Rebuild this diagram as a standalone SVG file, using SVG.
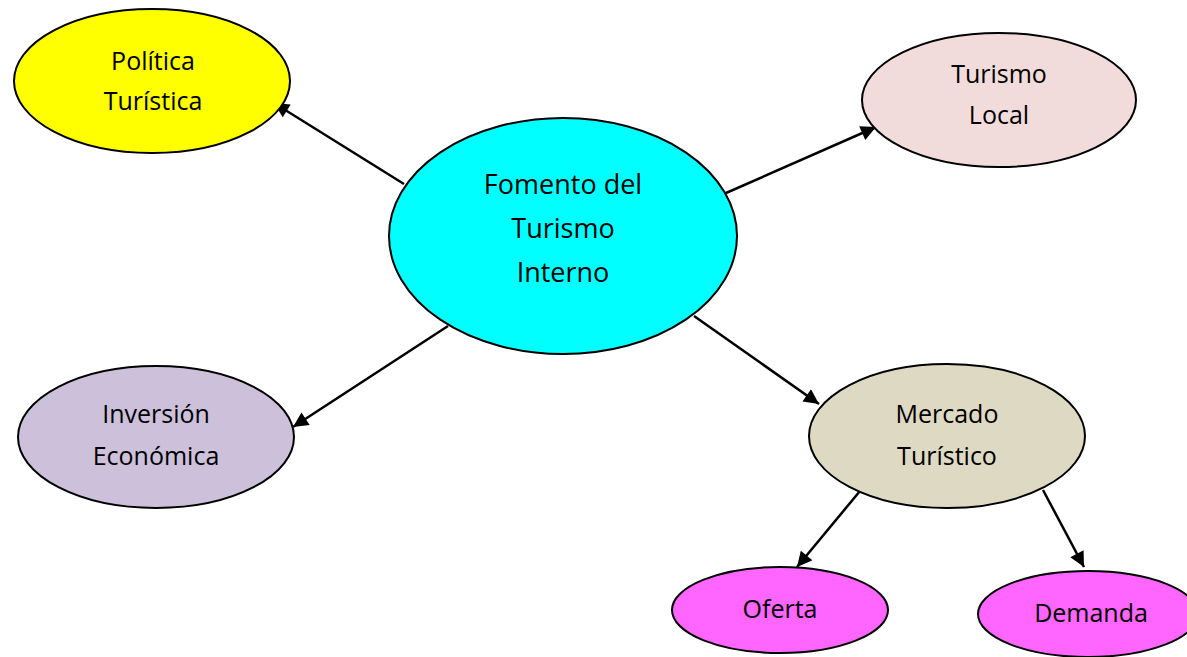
<svg xmlns="http://www.w3.org/2000/svg" width="1187" height="657" viewBox="0 0 1187 657">
<style>
.n{stroke:#000;stroke-width:2}
.t{font-family:"Open Sans","Liberation Sans",sans-serif;font-size:25px;fill:#000;text-anchor:middle}
.tc{font-size:27px}
.c{stroke:#000;stroke-width:2.5;fill:none;marker-end:url(#ah)}
</style>
<defs>
<marker id="ah" viewBox="0 0 10 10" refX="10" refY="5" markerWidth="6.5" markerHeight="6" orient="auto" markerUnits="strokeWidth">
<path d="M0,0 L10,5 L0,10 Z" fill="#000"/>
</marker>
</defs>
<rect width="1187" height="657" fill="#fff"/>
<g id="connectors">
<line class="c" x1="404" y1="184" x2="274" y2="103"/>
<line class="c" x1="726" y1="193" x2="876" y2="127"/>
<line class="c" x1="448" y1="326" x2="293" y2="427"/>
<line class="c" x1="694" y1="316" x2="819" y2="404"/>
<line class="c" x1="860" y1="491" x2="797" y2="567"/>
<line class="c" x1="1043" y1="490" x2="1084" y2="567"/>
</g>
<g id="politica">
<ellipse class="n" cx="152" cy="81" rx="138" ry="72" fill="#FFFF00"/>
<text class="t" x="153" y="70">Política</text>
<text class="t" x="153" y="110">Turística</text>
</g>
<g id="turismo-local">
<ellipse class="n" cx="999" cy="100" rx="137" ry="67" fill="#F2DCDB"/>
<text class="t" x="999" y="83">Turismo</text>
<text class="t" x="999" y="124">Local</text>
</g>
<g id="fomento">
<ellipse class="n" cx="563" cy="236" rx="174" ry="118" fill="#00FFFF"/>
<text class="t tc" x="563" y="194">Fomento del</text>
<text class="t tc" x="563" y="238">Turismo</text>
<text class="t tc" x="563" y="282">Interno</text>
</g>
<g id="inversion">
<ellipse class="n" cx="156" cy="437" rx="138" ry="71" fill="#CCC0DA"/>
<text class="t" x="156" y="423">Inversión</text>
<text class="t" x="156" y="465">Económica</text>
</g>
<g id="mercado">
<ellipse class="n" cx="947" cy="436" rx="138" ry="72" fill="#DDD9C3"/>
<text class="t" x="947" y="423">Mercado</text>
<text class="t" x="947" y="465">Turístico</text>
</g>
<g id="oferta">
<ellipse class="n" cx="780" cy="610" rx="108" ry="43" fill="#FF66FF"/>
<text class="t" x="780" y="618">Oferta</text>
</g>
<g id="demanda">
<ellipse class="n" cx="1088" cy="614" rx="110" ry="43" fill="#FF66FF"/>
<text class="t" x="1091" y="622">Demanda</text>
</g>
</svg>
